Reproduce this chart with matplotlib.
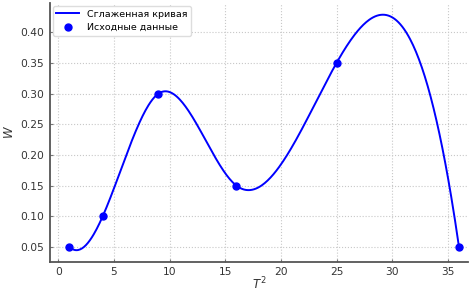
import numpy as np
import matplotlib
matplotlib.use("Agg")
import matplotlib.pyplot as plt

# Source points (T^2, W)
t2 = np.array([1, 4, 9, 16, 25, 36], dtype=float)
w = np.array([0.05, 0.10, 0.30, 0.15, 0.35, 0.05])


def spline_not_a_knot(x, y, xs):
    # cubic spline with not-a-knot ends, solved for second derivatives
    n = len(x)
    h = np.diff(x)
    A = np.zeros((n, n))
    b = np.zeros(n)
    for i in range(1, n - 1):
        A[i, i - 1] = h[i - 1]
        A[i, i] = 2 * (h[i - 1] + h[i])
        A[i, i + 1] = h[i]
        b[i] = 6 * ((y[i + 1] - y[i]) / h[i] - (y[i] - y[i - 1]) / h[i - 1])
    # third derivative continuous at x[1] and x[n-2]
    A[0, 0] = h[1]
    A[0, 1] = -(h[0] + h[1])
    A[0, 2] = h[0]
    A[-1, -3] = h[-1]
    A[-1, -2] = -(h[-2] + h[-1])
    A[-1, -1] = h[-2]
    M = np.linalg.solve(A, b)
    idx = np.clip(np.searchsorted(x, xs) - 1, 0, n - 2)
    x0, x1 = x[idx], x[idx + 1]
    hh = x1 - x0
    a = (x1 - xs) / hh
    c = (xs - x0) / hh
    return (a * y[idx] + c * y[idx + 1]
            + ((a ** 3 - a) * M[idx] + (c ** 3 - c) * M[idx + 1]) * hh ** 2 / 6)


xs = np.linspace(t2.min(), t2.max(), 400)
ys = spline_not_a_knot(t2, w, xs)

fig, ax = plt.subplots(figsize=(4.75, 2.93), dpi=100)
fig.subplots_adjust(left=0.105, right=0.985, top=0.99, bottom=0.106)

ax.plot(xs, ys, color="blue", lw=1.4, label="Сглаженная кривая")
ax.plot(t2, w, "o", color="blue", ms=5, label="Исходные данные")

ax.set_xlim(-0.75, 36.8)
ax.set_xlabel("$T^2$", fontsize=8.5, labelpad=-1, color="#333333")
ax.set_ylabel("$W$", fontsize=8.5, labelpad=3, color="#333333")
ax.grid(True, linestyle=":", color="#c8c8c8", lw=0.8)
for s in ["top", "right"]:
    ax.spines[s].set_visible(False)
for s in ["left", "bottom"]:
    ax.spines[s].set_color("#555555")
    ax.spines[s].set_linewidth(1.3)
ax.tick_params(direction="in", length=2, width=0.8, color="#777777",
               labelsize=7.7, labelcolor="#333333", pad=4)
ax.tick_params(axis="x", pad=3.5)
ax.legend(loc="upper left", fontsize=6.8, frameon=True, borderaxespad=0.3,
          handlelength=2.4, framealpha=1, edgecolor="#dddddd")

plt.savefig("out.png", dpi=100)
